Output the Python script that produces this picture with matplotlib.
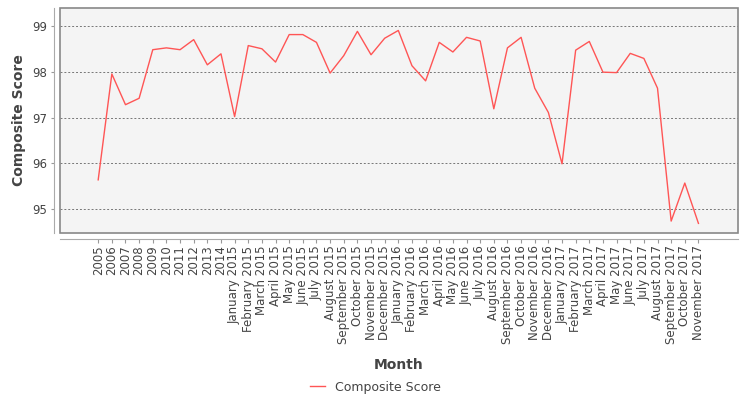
import matplotlib.pyplot as plt
from matplotlib.patches import Rectangle

years = ['2005', '2006', '2007', '2008', '2009', '2010', '2011', '2012', '2013', '2014']
months = ['January', 'February', 'March', 'April', 'May', 'June', 'July',
          'August', 'September', 'October', 'November', 'December']
month_labels = [f'{m} {y}' for y in (2015, 2016, 2017) for m in months][:35]
labels = years + month_labels

scores = [95.64, 97.95, 97.28, 97.42, 98.48, 98.52, 98.48, 98.70, 98.15, 98.39,
          97.02, 98.57, 98.50, 98.21, 98.81, 98.81, 98.64, 97.97, 98.35, 98.88,
          98.37, 98.73, 98.90, 98.13, 97.80, 98.64, 98.43, 98.75, 98.67, 97.19,
          98.52, 98.75, 97.64, 97.11, 95.99, 98.47, 98.66, 97.99, 97.98, 98.40,
          98.29, 97.64, 94.74, 95.57, 94.69]

text_col = '#444444'
fig = plt.figure(figsize=(7.5, 4), dpi=100)
ax = fig.add_axes([0.08, 0.4175, 0.904, 0.5625])
ax.set_facecolor('#f4f4f4')

# axis lines sit a few pixels away from the plot border
for side in ('top', 'right'):
    ax.spines[side].set_visible(False)
for side in ('left', 'bottom'):
    ax.spines[side].set_position(('outward', 4))
    ax.spines[side].set_color('#aaaaaa')
ax.add_patch(Rectangle((0, 0), 1, 1, transform=ax.transAxes, fill=False,
                       edgecolor='#888888', linewidth=1.2, clip_on=False, zorder=5))

x = list(range(len(labels)))
ax.plot(x, scores, color='#ff5555', linewidth=1.0, label='Composite Score')

ax.set_xlim(-2.8, len(labels) - 1 + 2.9)
ax.set_ylim(94.48, 99.39)
ax.set_yticks([95, 96, 97, 98, 99])
ax.set_xticks(x)
ax.set_xticklabels(labels, rotation=90, fontsize=8.5, color=text_col)
ax.tick_params(axis='y', labelsize=8.5, labelcolor=text_col, length=2, color='#999999')
ax.tick_params(axis='x', length=3, color='#999999', pad=2)

ax.grid(axis='y', color='#777777', linestyle=(0, (2, 2)), linewidth=0.7)
ax.set_axisbelow(True)

ax.set_ylabel('Composite Score', fontsize=10, fontweight='bold', color=text_col, labelpad=4)
ax.set_xlabel('Month', fontsize=10, fontweight='bold', color=text_col, labelpad=10)

fig.legend(loc='center', bbox_to_anchor=(0.5, 0.032), frameon=False, fontsize=9,
           handlelength=1.2, labelcolor=text_col)

fig.savefig('out.png', dpi=100)
